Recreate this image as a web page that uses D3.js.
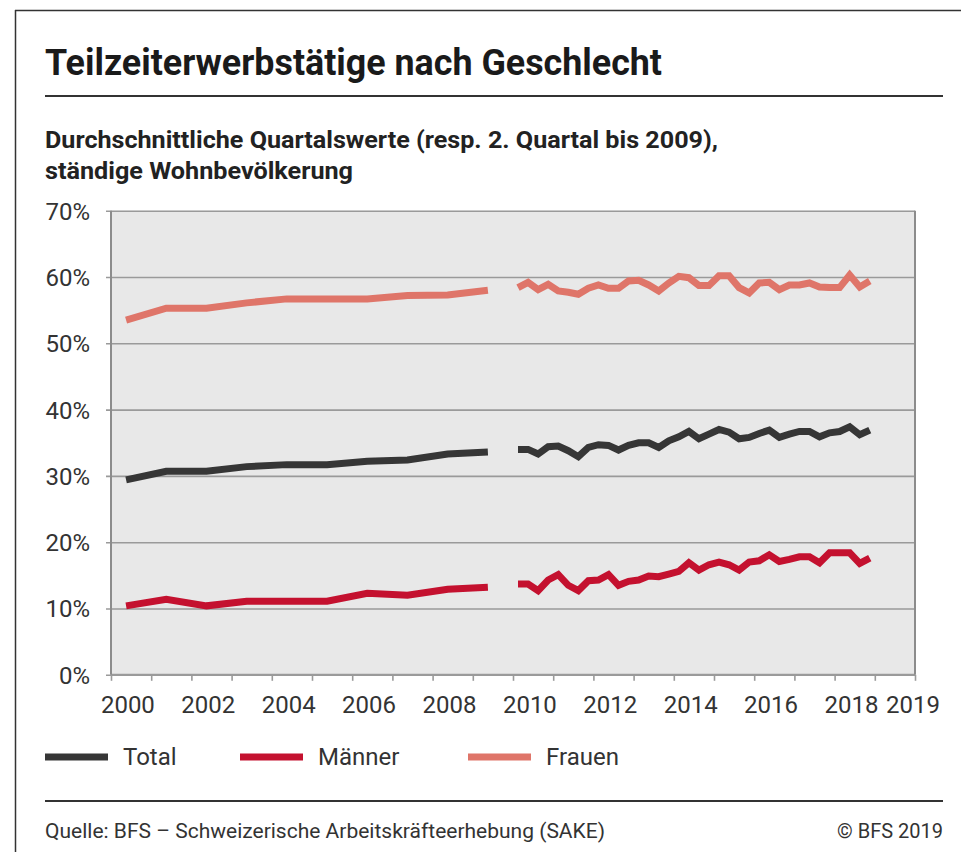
<!DOCTYPE html>
<html lang="de">
<head>
<meta charset="UTF-8">
<title>Teilzeiterwerbstätige nach Geschlecht</title>
<script src="https://cdn.jsdelivr.net/npm/d3@7/dist/d3.min.js"></script>
<style>
  body { margin: 0; background: #fff; }
  text { font-family: Roboto, "Noto Sans", sans-serif; fill: #333; }
</style>
</head>
<body>
<div id="chart"></div>
<script>
// annual values (2nd quarter) 2000-2009
var annualYears = [2000, 2001, 2002, 2003, 2004, 2005, 2006, 2007, 2008, 2009];
var totalAnnual  = [29.4, 30.7, 30.7, 31.4, 31.7, 31.7, 32.2, 32.4, 33.3, 33.6];
var maennerAnnual = [10.4, 11.4, 10.4, 11.1, 11.1, 11.1, 12.3, 12.0, 12.9, 13.2];
var frauenAnnual  = [53.5, 55.3, 55.3, 56.1, 56.7, 56.7, 56.7, 57.2, 57.3, 58.0];

// quarterly values 2010 Q1 - 2018 Q4
var quarters = [];
for (var yr = 2010; yr <= 2018; yr++) {
    for (var q = 1; q <= 4; q++) quarters.push(yr + "Q" + q);
}
var totalQ = [34.0, 34.0, 33.3, 34.4, 34.5, 33.8, 32.9, 34.3,
              34.7, 34.6, 33.9, 34.6, 35.0, 35.0, 34.3, 35.3,
              35.9, 36.7, 35.6, 36.3, 37.0, 36.6, 35.6, 35.8,
              36.4, 36.9, 35.8, 36.3, 36.7, 36.7, 35.9, 36.5,
              36.7, 37.4, 36.2, 36.9];
var maennerQ = [13.7, 13.7, 12.7, 14.3, 15.1, 13.5, 12.7, 14.2,
                14.3, 15.1, 13.5, 14.1, 14.3, 14.9, 14.8, 15.2,
                15.6, 16.9, 15.8, 16.6, 17.0, 16.6, 15.8, 17.0,
                17.2, 18.1, 17.1, 17.4, 17.8, 17.8, 16.9, 18.4,
                18.4, 18.4, 16.8, 17.6];
var frauenQ = [58.4, 59.2, 58.1, 58.9, 57.9, 57.7, 57.4, 58.3,
               58.8, 58.3, 58.3, 59.4, 59.5, 58.8, 57.9, 59.1,
               60.1, 59.9, 58.7, 58.7, 60.2, 60.2, 58.4, 57.6,
               59.1, 59.2, 58.1, 58.8, 58.8, 59.1, 58.5, 58.4,
               58.4, 60.3, 58.5, 59.4];

var yTicks = [0, 10, 20, 30, 40, 50, 60, 70];
var xLabels = [2000, 2002, 2004, 2006, 2008, 2010, 2012, 2014, 2016, 2018, 2019];

var series = [
    { name: "Total",   color: "#363636", annual: totalAnnual,   quarterly: totalQ },
    { name: "Männer",  color: "#c4112f", annual: maennerAnnual, quarterly: maennerQ },
    { name: "Frauen",  color: "#df7569", annual: frauenAnnual,  quarterly: frauenQ }
];

var W = 961, H = 852;
var svg = d3.select("#chart").append("svg")
    .attr("width", W).attr("height", H);

// frame
svg.append("line").attr("x1", 15).attr("x2", W).attr("y1", 10.5).attr("y2", 10.5)
    .attr("stroke", "#333").attr("stroke-width", 1.5);
svg.append("line").attr("x1", 15.5).attr("x2", 15.5).attr("y1", 10).attr("y2", H)
    .attr("stroke", "#333").attr("stroke-width", 1.5);

// title & subtitle
svg.append("text").attr("x", 45).attr("y", 75)
    .attr("font-size", 36).attr("font-weight", 700).style("fill", "#1a1a1a")
    .attr("textLength", 617).attr("lengthAdjust", "spacingAndGlyphs")
    .text("Teilzeiterwerbstätige nach Geschlecht");
svg.append("line").attr("x1", 45).attr("x2", 943).attr("y1", 96).attr("y2", 96)
    .attr("stroke", "#333").attr("stroke-width", 2);
svg.append("text").attr("x", 45).attr("y", 148)
    .attr("font-size", 24).attr("font-weight", 700).style("fill", "#222")
    .attr("textLength", 673).attr("lengthAdjust", "spacingAndGlyphs")
    .text("Durchschnittliche Quartalswerte (resp. 2. Quartal bis 2009),");
svg.append("text").attr("x", 45).attr("y", 179)
    .attr("font-size", 24).attr("font-weight", 700).style("fill", "#222")
    .attr("textLength", 308).attr("lengthAdjust", "spacingAndGlyphs")
    .text("ständige Wohnbevölkerung");

// plot area
var plotL = 111, plotR = 915, plotT = 210.7, plotB = 674.8;
var x = d3.scaleLinear().domain([2000, 2020]).range([plotL, plotR]);
var y = d3.scaleLinear().domain([0, 70]).range([plotB, plotT]);

svg.append("rect").attr("x", plotL).attr("y", plotT)
    .attr("width", plotR - plotL).attr("height", plotB - plotT)
    .attr("fill", "#e8e8e8");

// gridlines + y ticks
var yAxis = svg.append("g").attr("transform", "translate(" + plotL + ",0)")
    .call(d3.axisLeft(y).tickValues(yTicks).tickSize(-(plotR - plotL)).tickSizeOuter(0)
        .tickFormat(function(d) { return d + "%"; }));
yAxis.select(".domain").remove();
yAxis.selectAll(".tick line").attr("stroke", "#9a9a9a").attr("stroke-width", 1.6)
    .attr("x1", -5);
yAxis.selectAll(".tick text").attr("x", -21).attr("font-size", 24)
    .attr("dy", "0.35em").style("fill", "#333");

// x axis ticks
var xAxis = svg.append("g").attr("transform", "translate(0," + plotB + ")")
    .call(d3.axisBottom(x).tickValues(d3.range(2000, 2021)).tickSize(6).tickFormat(""));
xAxis.select(".domain").remove();
xAxis.selectAll(".tick line").attr("stroke", "#9a9a9a").attr("stroke-width", 1.6);

svg.append("line").attr("x1", plotL).attr("x2", plotR).attr("y1", plotB).attr("y2", plotB)
    .attr("stroke", "#9a9a9a").attr("stroke-width", 2);
svg.append("line").attr("x1", plotL).attr("x2", plotL).attr("y1", plotT).attr("y2", plotB)
    .attr("stroke", "#8c8c8c").attr("stroke-width", 2);
svg.append("line").attr("x1", plotR).attr("x2", plotR).attr("y1", plotT).attr("y2", plotB)
    .attr("stroke", "#8c8c8c").attr("stroke-width", 2);

svg.append("g").selectAll("text").data(xLabels).enter().append("text")
    .attr("x", function(d) { return d === 2019 ? x(2019.95) : x(d + 0.42); })
    .attr("y", 713).attr("text-anchor", "middle").attr("font-size", 24)
    .style("fill", "#333")
    .text(function(d) { return d; });

// lines: annual part (placed at Q2) and quarterly part, with a gap in between
var line = d3.line().x(function(d) { return x(d.t); }).y(function(d) { return y(d.v); });

series.forEach(function(s) {
    var a = annualYears.map(function(yr, i) { return { t: yr + 0.375, v: s.annual[i] }; });
    var qd = quarters.map(function(k, i) {
        var parts = k.split("Q");
        return { t: +parts[0] + (+parts[1] - 1) * 0.25 + 0.125, v: s.quarterly[i] };
    });
    [a, qd].forEach(function(pts) {
        svg.append("path").datum(pts).attr("d", line)
            .attr("fill", "none").attr("stroke", s.color).attr("stroke-width", 7)
            .attr("stroke-linejoin", "miter").attr("stroke-miterlimit", 3);
    });
});

// legend
var legendX = [45, 240, 468];
var legend = svg.append("g").selectAll("g").data(series).enter().append("g")
    .attr("transform", function(d, i) { return "translate(" + legendX[i] + ",757)"; });
legend.append("line").attr("x1", 0).attr("x2", 63).attr("y1", 0).attr("y2", 0)
    .attr("stroke", function(d) { return d.color; }).attr("stroke-width", 7);
legend.append("text").attr("x", 78).attr("y", 0).attr("dy", "0.35em")
    .attr("font-size", 24).style("fill", "#333")
    .text(function(d) { return d.name; });

// footer
svg.append("line").attr("x1", 45).attr("x2", 943).attr("y1", 801).attr("y2", 801)
    .attr("stroke", "#333").attr("stroke-width", 2);
svg.append("text").attr("x", 45).attr("y", 838).attr("font-size", 20).style("fill", "#333")
    .attr("textLength", 560).attr("lengthAdjust", "spacingAndGlyphs")
    .text("Quelle: BFS – Schweizerische Arbeitskräfteerhebung (SAKE)");
svg.append("text").attr("x", 943).attr("y", 838).attr("font-size", 20).style("fill", "#333")
    .attr("text-anchor", "end")
    .text("© BFS 2019");
</script>
</body>
</html>
